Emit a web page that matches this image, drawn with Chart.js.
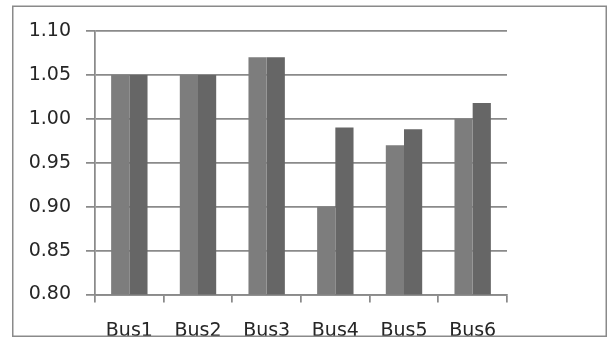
<!DOCTYPE html>
<html>
<head>
<meta charset="utf-8">
<script src="https://cdn.jsdelivr.net/npm/chart.js@4/dist/chart.umd.min.js"></script>
<style>
  html, body { margin: 0; padding: 0; background: #ffffff; }
  #wrap { position: relative; width: 608px; height: 341px; }
  canvas { display: block; }
</style>
</head>
<body>
<div id="wrap"><canvas id="chart" width="608" height="341"></canvas></div>
<script>
// Bus voltage magnitudes (p.u.) for the two cases
const buses = ['Bus1', 'Bus2', 'Bus3', 'Bus4', 'Bus5', 'Bus6'];
const caseA = [1.05, 1.05, 1.07, 0.90, 0.97, 1.00];
const caseB = [1.05, 1.05, 1.07, 0.99, 0.988, 1.018];
const yTicks = [0.80, 0.85, 0.90, 0.95, 1.00, 1.05, 1.10];
const yTickLabels = ['0.80', '0.85', '0.90', '0.95', '1.00', '1.05', '1.10'];

const gridGray = '#8a8a8a';
const textColor = '#262626';
const fontSpec = { family: '"DejaVu Sans", Verdana, sans-serif', size: 19 };

// Outer frame around the chart; labels that run past it are cut off
const framePlugin = {
  id: 'frame',
  afterDraw(chart) {
    const ctx = chart.ctx;
    ctx.save();
    ctx.fillStyle = '#ffffff';
    ctx.fillRect(0, 337, chart.width, chart.height - 337);
    ctx.strokeStyle = '#8a8a8a';
    ctx.lineWidth = 1.5;
    ctx.strokeRect(12.75, 6.25, 593.5, 330);
    ctx.restore();
  }
};

new Chart(document.getElementById('chart'), {
  type: 'bar',
  data: {
    labels: buses,
    datasets: [
      { label: 'Case A', data: caseA, backgroundColor: '#7d7d7d', borderWidth: 0 },
      { label: 'Case B', data: caseB, backgroundColor: '#666666', borderWidth: 0 }
    ]
  },
  options: {
    responsive: false,
    animation: false,
    devicePixelRatio: 1,
    layout: { padding: { left: 0, top: 31, right: 101, bottom: 0 } },
    datasets: { bar: { categoryPercentage: 0.53, barPercentage: 1.0 } },
    plugins: { legend: { display: false }, tooltip: { enabled: false } },
    scales: {
      x: {
        afterFit(scale) { scale.height = 46.5; },
        grid: {
          offset: true,
          drawOnChartArea: false,
          drawTicks: true,
          tickLength: 8,
          color: gridGray,
          lineWidth: 1.75
        },
        border: { display: true, color: gridGray, width: 1.75 },
        ticks: { color: textColor, font: fontSpec, padding: 17, maxRotation: 0, autoSkip: false }
      },
      y: {
        min: 0.80,
        max: 1.10,
        afterFit(scale) { scale.width = 95; },
        afterBuildTicks(scale) { scale.ticks = yTicks.map(v => ({ value: v })); },
        grid: {
          color: gridGray,
          lineWidth: 1.75,
          drawTicks: true,
          tickLength: 9
        },
        border: { display: true, color: gridGray, width: 1.75 },
        ticks: {
          color: textColor,
          font: fontSpec,
          padding: 15,
          callback(value) {
            const i = yTicks.findIndex(t => Math.abs(t - value) < 1e-6);
            return i >= 0 ? yTickLabels[i] : '';
          }
        }
      }
    }
  },
  plugins: [framePlugin]
});
</script>
</body>
</html>
